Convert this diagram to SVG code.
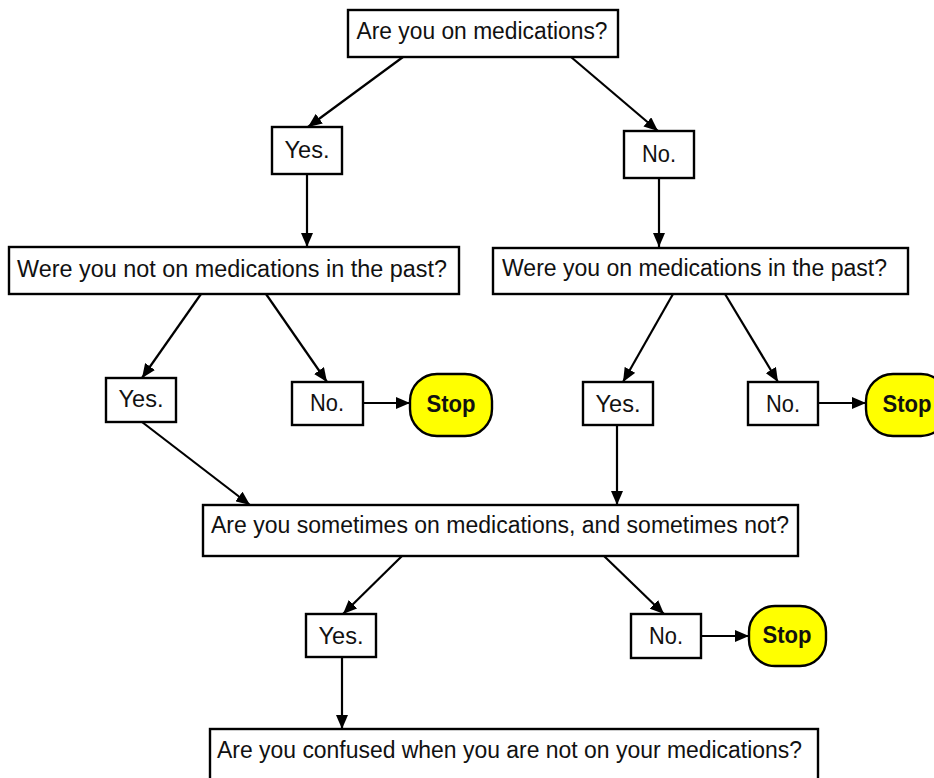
<svg xmlns="http://www.w3.org/2000/svg" width="934" height="778" viewBox="0 0 934 778">
<style>
.box{fill:#fff;stroke:#000;stroke-width:2.4}
.stop{fill:#ffff00;stroke:#000;stroke-width:2.4}
.t{font-family:"Liberation Sans",Arial,sans-serif;font-size:23px;fill:#111}
.m{text-anchor:middle}
.b{font-weight:bold}
.c{stroke:#000;stroke-width:2.2;fill:none;marker-end:url(#ah)}
</style>
<defs>
<marker id="ah" viewBox="0 0 14 12" refX="14" refY="6" markerWidth="14" markerHeight="12" markerUnits="userSpaceOnUse" orient="auto">
<path d="M0,0 L14,6 L0,12 Z" fill="#000"/>
</marker>
</defs>
<rect width="934" height="778" fill="#fff"/>
<g id="connectors">
<line class="c" x1="403" y1="57" x2="308" y2="127"/>
<line class="c" x1="571" y1="57" x2="658" y2="131"/>
<line class="c" x1="307" y1="174" x2="307" y2="247"/>
<line class="c" x1="659" y1="178" x2="659" y2="247"/>
<line class="c" x1="201" y1="294" x2="142" y2="378"/>
<line class="c" x1="266" y1="294" x2="327" y2="382"/>
<line class="c" x1="363" y1="403" x2="410" y2="403"/>
<line class="c" x1="673" y1="294" x2="623" y2="382"/>
<line class="c" x1="725" y1="294" x2="778" y2="382"/>
<line class="c" x1="818" y1="403" x2="866" y2="403"/>
<line class="c" x1="142" y1="422" x2="250" y2="505"/>
<line class="c" x1="617" y1="425" x2="617" y2="505"/>
<line class="c" x1="402" y1="556" x2="343" y2="614"/>
<line class="c" x1="604" y1="556" x2="664" y2="614"/>
<line class="c" x1="701" y1="636" x2="749" y2="636"/>
<line class="c" x1="342" y1="657" x2="342" y2="729"/>
</g>
<g id="q1"><rect class="box" x="348" y="10" width="270" height="47"/><text class="t m" x="482" y="39" textLength="251" lengthAdjust="spacingAndGlyphs">Are you on medications?</text></g>
<g id="yes1"><rect class="box" x="272" y="127" width="70" height="47"/><text class="t m" x="307" y="158" textLength="45" lengthAdjust="spacingAndGlyphs">Yes.</text></g>
<g id="no1"><rect class="box" x="624" y="131" width="70" height="47"/><text class="t m" x="659" y="162" textLength="34" lengthAdjust="spacingAndGlyphs">No.</text></g>
<g id="q2a"><rect class="box" x="9" y="247" width="450" height="47"/><text class="t" x="17" y="277" textLength="430" lengthAdjust="spacingAndGlyphs">Were you not on medications in the past?</text></g>
<g id="q2b"><rect class="box" x="493" y="248" width="415" height="46"/><text class="t" x="502" y="276" textLength="385" lengthAdjust="spacingAndGlyphs">Were you on medications in the past?</text></g>
<g id="yes2a"><rect class="box" x="106" y="378" width="70" height="44"/><text class="t m" x="141" y="407" textLength="45" lengthAdjust="spacingAndGlyphs">Yes.</text></g>
<g id="no2a"><rect class="box" x="292" y="382" width="71" height="43"/><text class="t m" x="327" y="411" textLength="34" lengthAdjust="spacingAndGlyphs">No.</text></g>
<g id="stop1"><rect class="stop" x="410" y="374" width="82" height="62" rx="27" ry="27"/><text class="t m b" x="451" y="412" textLength="49" lengthAdjust="spacingAndGlyphs">Stop</text></g>
<g id="yes2b"><rect class="box" x="583" y="382" width="70" height="43"/><text class="t m" x="618" y="412" textLength="45" lengthAdjust="spacingAndGlyphs">Yes.</text></g>
<g id="no2b"><rect class="box" x="748" y="382" width="70" height="43"/><text class="t m" x="783" y="412" textLength="34" lengthAdjust="spacingAndGlyphs">No.</text></g>
<g id="stop2"><rect class="stop" x="866" y="374" width="82" height="62" rx="27" ry="27"/><text class="t m b" x="907" y="412" textLength="49" lengthAdjust="spacingAndGlyphs">Stop</text></g>
<g id="q3"><rect class="box" x="203" y="505" width="595" height="51"/><text class="t" x="211" y="533" textLength="578" lengthAdjust="spacingAndGlyphs">Are you sometimes on medications, and sometimes not?</text></g>
<g id="yes3"><rect class="box" x="306" y="614" width="70" height="43"/><text class="t m" x="341" y="644" textLength="45" lengthAdjust="spacingAndGlyphs">Yes.</text></g>
<g id="no3"><rect class="box" x="631" y="614" width="70" height="44"/><text class="t m" x="666" y="644" textLength="34" lengthAdjust="spacingAndGlyphs">No.</text></g>
<g id="stop3"><rect class="stop" x="749" y="606" width="77" height="60" rx="26" ry="26"/><text class="t m b" x="787" y="643" textLength="49" lengthAdjust="spacingAndGlyphs">Stop</text></g>
<g id="q4"><rect class="box" x="210" y="729" width="608" height="60"/><text class="t" x="217" y="758" textLength="585" lengthAdjust="spacingAndGlyphs">Are you confused when you are not on your medications?</text></g>
</svg>
